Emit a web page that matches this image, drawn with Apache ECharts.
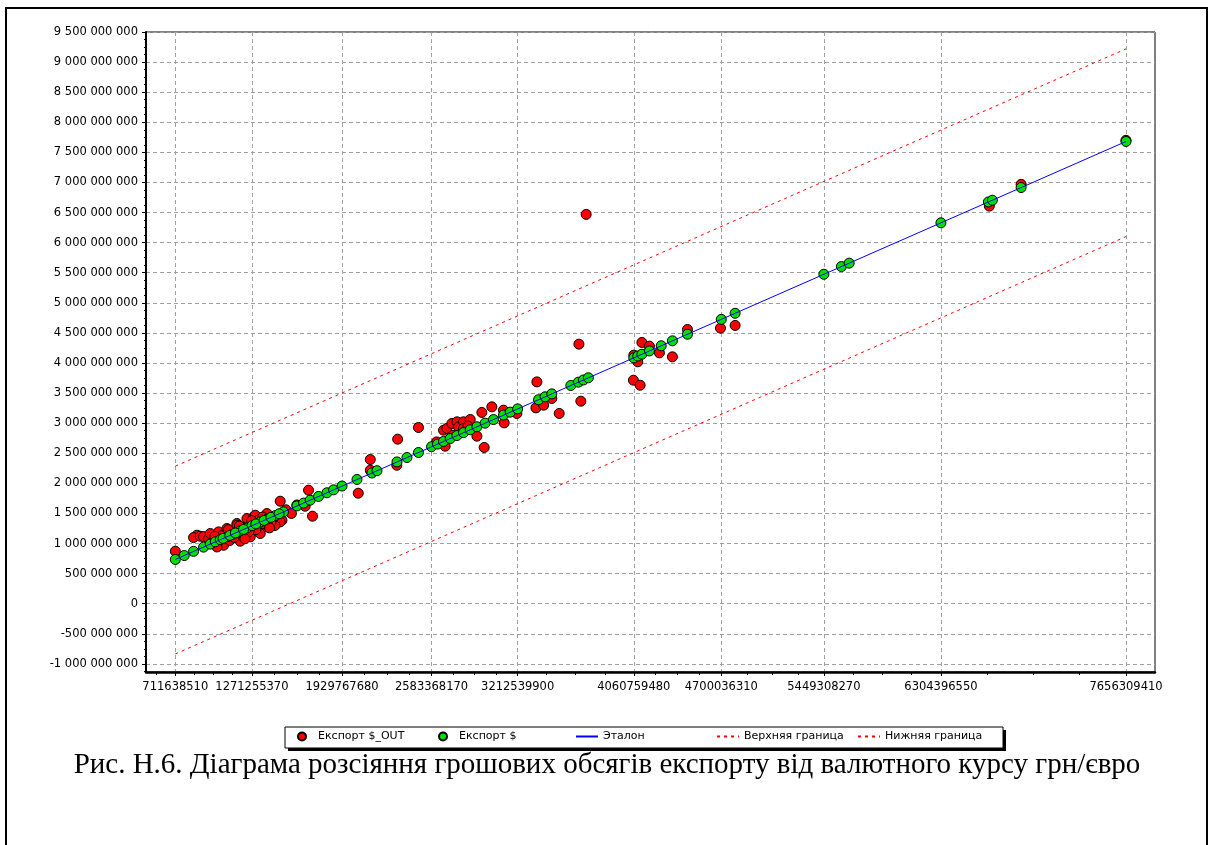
<!DOCTYPE html>
<html><head><meta charset="utf-8">
<script src="https://cdn.jsdelivr.net/npm/echarts@6/dist/echarts.min.js"></script>
<style>html,body{margin:0;padding:0;background:#fff}#c{width:1214px;height:845px}</style>
</head><body><div id="c"></div>
<script>
// ---- data ----
const xTickValues = [711638510, 1271255370, 1929767680, 2583368170, 3212539900, 4060759480, 4700036310, 5449308270, 6304396550, 7656309410];
const yTickValues = [-1000000000, -500000000, 0, 500000000, 1000000000, 1500000000, 2000000000, 2500000000, 3000000000, 3500000000, 4000000000, 4500000000, 5000000000, 5500000000, 6000000000, 6500000000, 7000000000, 7500000000, 8000000000, 8500000000, 9000000000, 9500000000];
const xRange = [497.7e6, 7868e6];
const yRange = [-1135e6, 9500e6];

const exportOut = [
  [712e6, 872e6], [870e6, 1138e6], [845e6, 1099e6], [894e6, 1121e6], [918e6, 1115e6], [955e6, 1082e6],
  [967e6, 1166e6], [1028e6, 1193e6], [1089e6, 1249e6], [1162e6, 1332e6], [1235e6, 1415e6], [1284e6, 1442e6],
  [1381e6, 1498e6], [1296e6, 1470e6], [1162e6, 1304e6], [1186e6, 1038e6], [1259e6, 1110e6], [1332e6, 1166e6],
  [1381e6, 1276e6], [1064e6, 971e6], [1016e6, 943e6], [1478e6, 1703e6], [1685e6, 1886e6], [1714e6, 1454e6],
  [1491e6, 1387e6], [1478e6, 1359e6], [1440e6, 1300e6], [1110e6, 1050e6], [1210e6, 1180e6], [1300e6, 1230e6],
  [1350e6, 1330e6], [1420e6, 1410e6], [980e6, 1010e6], [1050e6, 1130e6], [1130e6, 1150e6], [1250e6, 1200e6],
  [1520e6, 1560e6], [1600e6, 1640e6], [1140e6, 1100e6], [1200e6, 1270e6], [1320e6, 1390e6], [1410e6, 1350e6],
  [1560e6, 1500e6], [1660e6, 1620e6], [1000e6, 1120e6], [1100e6, 1230e6], [1180e6, 1290e6], [1270e6, 1380e6],
  [1350e6, 1440e6], [1220e6, 1080e6], [1400e6, 1260e6],
  [2048e6, 1836e6], [2136e6, 2396e6], [2136e6, 2218e6], [2336e6, 2734e6], [2330e6, 2300e6], [2488e6, 2928e6],
  [2621e6, 2689e6], [2671e6, 2883e6], [2696e6, 2912e6], [2732e6, 2995e6], [2769e6, 3022e6], [2781e6, 2938e6],
  [2817e6, 3022e6], [2817e6, 2912e6], [2866e6, 3061e6], [2915e6, 2784e6], [2951e6, 3178e6], [2968e6, 2596e6],
  [3024e6, 3271e6], [2683e6, 2617e6], [3114e6, 3005e6], [3109e6, 3216e6], [3207e6, 3161e6], [3346e6, 3254e6],
  [3402e6, 3299e6], [3462e6, 3410e6], [3516e6, 3161e6], [3353e6, 3686e6], [3674e6, 3365e6], [3660e6, 4313e6],
  [3713e6, 6469e6], [2740e6, 2800e6], [2850e6, 2950e6],
  [4058e6, 3714e6], [4107e6, 3631e6], [4090e6, 4019e6], [4061e6, 4130e6], [4120e6, 4341e6], [4175e6, 4280e6],
  [4248e6, 4168e6], [4343e6, 4102e6], [4453e6, 4557e6], [4694e6, 4579e6], [4801e6, 4624e6], [6658e6, 6607e6],
  [6890e6, 6968e6], [7656e6, 7700e6]
];

const exportActual = [
  [711638510, 735e6], [777e6, 800e6], [845e6, 870e6], [918e6, 940e6], [967e6, 990e6], [1004e6, 1028e6],
  [1040e6, 1064e6], [1089e6, 1112e6], [1126e6, 1150e6], [1186e6, 1210e6], [1235e6, 1258e6], [1271255370, 1296e6],
  [1332e6, 1356e6], [1381e6, 1405e6], [1442e6, 1465e6], [1502e6, 1526e6], [1600e6, 1625e6], [1649e6, 1672e6],
  [1697e6, 1720e6], [1758e6, 1782e6], [1819e6, 1843e6], [1868e6, 1892e6], [1929767680, 1955e6], [1060e6, 1085e6],
  [1110e6, 1134e6], [1150e6, 1175e6], [1210e6, 1234e6], [1300e6, 1325e6], [1360e6, 1384e6], [1410e6, 1435e6],
  [1470e6, 1494e6],
  [2039e6, 2064e6], [2148e6, 2172e6], [2185e6, 2210e6], [2331e6, 2356e6], [2404e6, 2429e6], [2488e6, 2512e6],
  [2583368170, 2608e6], [2627e6, 2652e6], [2671e6, 2696e6], [2720e6, 2745e6], [2769e6, 2794e6], [2817e6, 2842e6],
  [2866e6, 2890e6], [2915e6, 2940e6], [2975e6, 3000e6], [3036e6, 3060e6], [3109e6, 3134e6], [3158e6, 3183e6],
  [3212539900, 3237e6], [3365e6, 3390e6], [3413e6, 3438e6], [3462e6, 3487e6], [3601e6, 3626e6], [3656e6, 3681e6],
  [3693e6, 3718e6], [3729e6, 3754e6],
  [4060759480, 4085e6], [4090e6, 4115e6], [4120e6, 4145e6], [4175e6, 4200e6], [4261e6, 4286e6], [4343e6, 4368e6],
  [4453e6, 4478e6], [4700036310, 4725e6], [4801e6, 4826e6], [5449308270, 5474e6], [5577e6, 5602e6], [5634e6, 5659e6],
  [6304396550, 6329e6], [6651e6, 6676e6], [6680e6, 6705e6], [6890e6, 6915e6], [7656309410, 7681e6]
];

const etalon = [[711638510, 735e6], [7656309410, 7681e6]];
const upperBound = [[711638510, 2285e6], [7656309410, 9220e6]];
const lowerBound = [[711638510, -835e6], [7656309410, 6100e6]];

const legendNames = ['Експорт $_OUT', 'Експорт $', 'Эталон', 'Верхняя граница', 'Нижняя граница'];
const caption = 'Рис. Н.6. Діаграма розсіяння грошових обсягів експорту від валютного курсу грн/євро';

// ---- minor tick positions derived from major ticks (3 between each pair) ----
function minorBetween(ticks, lo, hi) {
  const out = [];
  for (let i = 0; i < ticks.length - 1; i++) {
    const d = (ticks[i + 1] - ticks[i]) / 4;
    for (let k = 1; k < 4; k++) out.push(ticks[i] + d * k);
  }
  let d0 = (ticks[1] - ticks[0]) / 4;
  for (let v = ticks[0] - d0; v >= lo; v -= d0) out.push(v);
  let d1 = (ticks[ticks.length - 1] - ticks[ticks.length - 2]) / 4;
  for (let v = ticks[ticks.length - 1] + d1; v <= hi; v += d1) out.push(v);
  return out;
}
const xMinor = minorBetween(xTickValues, xRange[0], xRange[1]);
const yMinor = minorBetween(yTickValues, yRange[0], yRange[1]);

function fmtSpace(v) {
  const s = String(Math.abs(Math.round(v))).replace(/\B(?=(\d{3})+(?!\d))/g, ' ');
  return (v < 0 ? '-' : '') + s;
}

const FONT = 'DejaVu Sans';
const gridLine = { show: true, lineStyle: { color: '#a0a0a0', type: [4, 3], width: 1 } };

// one legend per item so the items sit at the reference's even spacing
const legendLefts = [297, 438, 575, 716, 857];
const legends = legendNames.map((n, i) => ({
  data: [i >= 2 ? { name: n, itemStyle: { opacity: 0 } } : { name: n }],
  left: legendLefts[i], top: 731, padding: 0,
  itemWidth: 22, itemHeight: 8, selectedMode: false,
  textStyle: { fontFamily: FONT, fontSize: 11, color: '#000' }
}));

const chart = echarts.init(document.getElementById('c'), null, { renderer: 'canvas' });
chart.setOption({
  animation: false,
  backgroundColor: '#fff',
  title: {
    text: caption, left: 'center', top: 746,
    textStyle: { fontFamily: 'Liberation Serif', fontSize: 29, fontWeight: 'normal', color: '#000' }
  },
  grid: { left: 146, right: 59, top: 32, bottom: 173, show: true, borderColor: '#000', borderWidth: 1, backgroundColor: 'transparent' },
  legend: legends,
  graphic: [
    { type: 'rect', z: 0, shape: { x: 6, y: 8, width: 1201, height: 850 }, style: { fill: 'none', stroke: '#000', lineWidth: 2 } },
    { type: 'rect', z: 0, shape: { x: 288, y: 730, width: 718, height: 21 }, style: { fill: '#000' } },
    { type: 'rect', z: 1, shape: { x: 285, y: 727, width: 718, height: 21 }, style: { fill: '#fff', stroke: '#000', lineWidth: 1 } }
  ],
  xAxis: [
    {
      type: 'value', min: xRange[0], max: xRange[1],
      axisLine: { show: true, onZero: false, lineStyle: { color: '#000', width: 2.5 } },
      axisTick: { show: true, customValues: xTickValues, length: 4, lineStyle: { color: '#000' } },
      axisLabel: { customValues: xTickValues, formatter: v => String(v), fontFamily: FONT, fontSize: 11.5, color: '#000', margin: 9 },
      splitLine: gridLine
    },
    {
      type: 'value', min: xRange[0], max: xRange[1], position: 'bottom',
      axisLine: { show: false, onZero: false },
      axisTick: { show: true, customValues: xMinor, length: 3, lineStyle: { color: '#000' } },
      axisLabel: { show: false }, splitLine: { show: false }
    }
  ],
  yAxis: [
    {
      type: 'value', min: yRange[0], max: yRange[1],
      axisLine: { show: true, onZero: false, lineStyle: { color: '#000', width: 2 } },
      axisTick: { show: true, customValues: yTickValues, length: 4, lineStyle: { color: '#000' } },
      axisLabel: { customValues: yTickValues, formatter: fmtSpace, fontFamily: FONT, fontSize: 11.5, color: '#000', margin: 8 },
      splitLine: gridLine
    },
    {
      type: 'value', min: yRange[0], max: yRange[1], position: 'left',
      axisLine: { show: false, onZero: false },
      axisTick: { show: true, customValues: yMinor, length: 2, lineStyle: { color: '#000' } },
      axisLabel: { show: false }, splitLine: { show: false }
    }
  ],
  series: [
    { name: legendNames[0], type: 'scatter', data: exportOut, symbol: 'circle', symbolSize: 10,
      itemStyle: { color: '#ff0000', borderColor: '#000', borderWidth: 1, opacity: 1 } },
    { name: legendNames[1], type: 'scatter', data: exportActual, symbol: 'circle', symbolSize: 10,
      itemStyle: { color: '#00e000', borderColor: '#000', borderWidth: 1, opacity: 1 } },
    { name: legendNames[2], type: 'line', data: etalon, symbol: 'none', showSymbol: false,
      lineStyle: { color: '#0000ff', width: 1 }, itemStyle: { color: '#0000ff' } },
    { name: legendNames[3], type: 'line', data: upperBound, symbol: 'none', showSymbol: false,
      lineStyle: { color: '#ff0000', width: 1, type: [3, 4] }, itemStyle: { color: '#ff0000' } },
    { name: legendNames[4], type: 'line', data: lowerBound, symbol: 'none', showSymbol: false,
      lineStyle: { color: '#ff0000', width: 1, type: [3, 4] }, itemStyle: { color: '#ff0000' } }
  ]
});
</script></body></html>
